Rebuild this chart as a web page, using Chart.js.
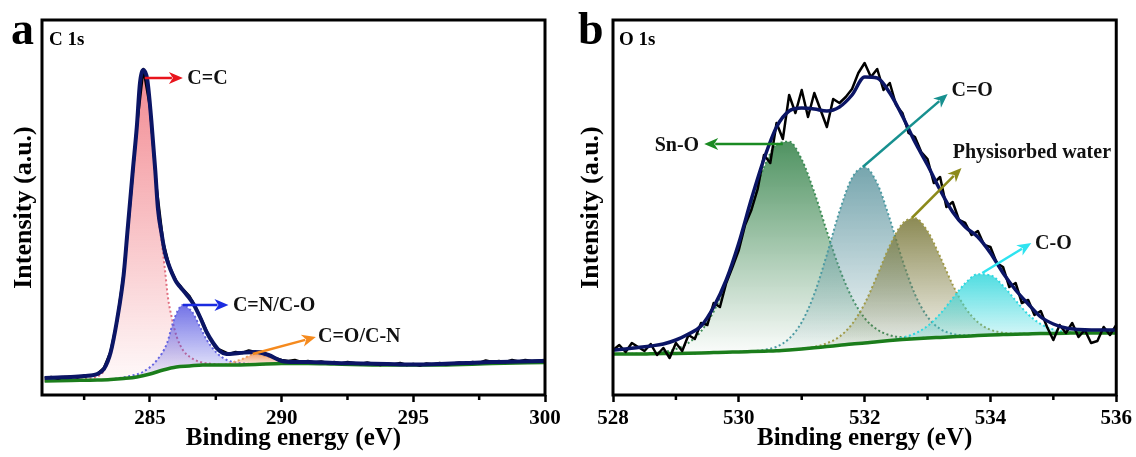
<!DOCTYPE html>
<html><head><meta charset="utf-8">
<script src="https://cdn.jsdelivr.net/npm/chart.js@4.4.0/dist/chart.umd.min.js"></script>
<style>
html,body{margin:0;padding:0;background:#fff;}
#wrap{position:relative;width:1136px;height:457px;overflow:hidden;background:#fff;}
.pane{position:absolute;top:0;width:568px;height:457px;}
#pa{left:0}#pb{left:568px}
</style></head><body>
<div id="wrap"><div class="pane" id="pa"><canvas id="ca"></canvas></div><div class="pane" id="pb"><canvas id="cb"></canvas></div></div>
<script>
// ---------- Panel a: C 1s ----------
const aTicks = [285, 290, 295, 300];
const aMinor = [282.5, 287.5, 292.5, 297.5];
const aEnvX = [281,281.5,282,282.5,283,283.25,283.5,283.75,284,284.15,284.35,284.5,284.62,284.75,284.9,285.05,285.2,285.3,285.45,285.57,285.7,285.85,286,286.15,286.4,286.65,286.9,287.15,287.4,287.65,287.9,288.4,289,289.5,290,290.5,291,292,293,294,295,296,297,298,299,300];
const aEnvY = [17,17.5,18,19,21,26,42,75,120,165,225,268,312,325,315,275,225,187,160,142,131,121,113,108,100,91,78,63,52,44,41,42,43,40,34,33,33,32,31.5,31,30.5,31,32,33,33.5,34];
const aRawX = [281,281.25,281.5,281.75,282,282.25,282.5,282.75,283,283.25,283.5,283.75,284,284.25,284.5,284.75,285,285.25,285.5,285.75,286,286.25,286.5,286.75,287,287.25,287.5,287.75,288,288.25,288.5,288.75,289,289.25,289.5,289.75,290,290.25,290.5,290.75,291,291.25,291.5,291.75,292,292.25,292.5,292.75,293,293.25,293.5,293.75,294,294.25,294.5,294.75,295,295.25,295.5,295.75,296,296.25,296.5,296.75,297,297.25,297.5,297.75,298,298.25,298.5,298.75,299,299.25,299.5,299.75,300];
const aRawY = [17,18,16.5,18,18.5,17.5,19,19.5,21,27,43,74,121,192,268,326,288,208,153,128,114,106,99,87,73,58,47,44,41,43,42,44.5,43,43.5,40,37,35,34,35,33,34,32.5,33.5,32,33,31.5,33,32,31,32.5,31,30,31.5,30.5,32,30,31,29.5,31.5,30.5,32,30.5,31.5,32.5,31.5,33,32,34.5,33,34,33,35,33.5,35,34,34.5,35];
const aBgX = [281,282,283,283.5,284,284.5,285,285.5,286,286.5,287,288,289,290,291,292,294,296,298,300];
const aBgY = [14,14.5,15,15.5,16.5,18,21,25,28,29,30,30,30.5,31.5,31.5,31,30,30,31.5,32.5];
const aCCX = [281,282,282.5,283,283.25,283.5,283.75,284,284.15,284.35,284.5,284.62,284.75,284.9,285.05,285.19,285.3,285.46,285.57,285.68,285.84,286.02,286.25,286.52,286.9,287.4,288,289,290];
const aCCY = [14,15,16,18.5,24,40,73,117,162,222,265,310,324,312,268,222,182,150,125,98,76,58,45,38,33,31,30,30.5,31.5];
const aCNX = [283.5,284.24,284.73,285.27,285.65,285.87,286.05,286.25,286.45,286.63,286.9,287.16,287.54,287.92,288.42,289,290];
const aCNY = [15.5,19,23,35,52,72,84,90,87,82,68,55,42,35,32,31,31.5];
const aCOX = [287.5,288,288.5,289,289.5,290,290.5,291];
const aCOY = [30,31.5,36,41,38,34,32,31.5];

// ---------- Panel b: O 1s ----------
const bTicks = [528, 530, 532, 534, 536];
const bMinor = [529, 531, 533, 535];
const bX = [528,528.2,528.4,528.6,528.8,529,529.2,529.4,529.6,529.8,530,530.2,530.4,530.6,530.8,531,531.2,531.4,531.6,531.8,532,532.2,532.4,532.6,532.8,533,533.2,533.4,533.6,533.8,534,534.2,534.4,534.6,534.8,535,535.2,535.4,535.6,535.8,536];
const bBg = [41,41,41,41.2,41.4,41.5,41.7,42,42.4,42.8,43,43.4,43.8,44.2,45,46,47.2,48.5,49.7,51,52,53.3,54.5,55.5,56.3,57,57.6,58.2,58.8,59.5,60,60.4,60.8,61.1,61.4,61.6,61.8,62,62,62,62];
const bSnO = [41,41.1,41.2,41.8,43.1,46,52.1,63.8,83.5,112.6,150,191.1,227.6,250.3,253.3,235.6,202.8,163.6,126.4,97.1,76.9,65.5,59.8,57.6,57.1,57.2,57.6,58.2,58.8,59.5,60,60.4,60.8,61.1,61.4,61.6,61.8,62,62,62,62];
const bCdO = [41,41,41,41.2,41.4,41.5,41.7,42,42.4,42.8,43.1,43.7,45.1,48.3,56.4,72.8,101,140.4,183.5,217.1,227.7,211.6,176.1,135.1,100.7,78.1,66.1,61.1,59.7,59.7,60,60.4,60.8,61.1,61.4,61.6,61.8,62,62,62,62];
const bWater = [41,41,41,41.2,41.4,41.5,41.7,42,42.4,42.8,43,43.4,43.8,44.2,45,46.3,48.2,51.7,58.3,70.9,91.3,119.4,149.2,171.2,176.7,163.8,138.3,110.2,87.3,72.8,65.3,62.2,61.3,61.2,61.4,61.6,61.8,62,62,62,62];
const bCO = [41,41,41,41.2,41.4,41.5,41.7,42,42.4,42.8,43,43.4,43.8,44.2,45,46,47.2,48.5,49.7,51,52,53.3,54.5,57.4,61.5,69,81,96.6,111.7,120.8,119.8,109.3,94.5,80.6,70.9,65.5,63.1,62.4,62.1,62,62];
const bEnv = [45,46,47.5,49,51,55,61,69,88,115,152,196,236,268,284,287,286,284,288,300,318,317,302,279,253,230,205,183,168,158,142,122,105,91,78,71,67,65.5,65,65,65];
const bRawX = [528,528.1,528.2,528.3,528.4,528.5,528.6,528.7,528.8,528.9,529,529.1,529.2,529.3,529.4,529.5,529.6,529.7,529.8,529.9,530,530.1,530.2,530.3,530.4,530.5,530.6,530.7,530.8,530.9,531,531.1,531.2,531.3,531.4,531.5,531.6,531.7,531.8,531.9,532,532.1,532.2,532.3,532.4,532.5,532.6,532.7,532.8,532.9,533,533.1,533.2,533.3,533.4,533.5,533.6,533.7,533.8,533.9,534,534.1,534.2,534.3,534.4,534.5,534.6,534.7,534.8,534.9,535,535.1,535.2,535.3,535.4,535.5,535.6,535.7,535.8,535.9,536];
const bRawY = [45,50,43,52,48,44,51,40,47,37,52,44,60,56,72,70,92,88,112,128,145,170,185,206,240,232,272,256,300,282,305,278,302,285,268,296,292,298,306,322,332,318,326,305,312,290,282,262,258,243,236,212,218,188,193,175,172,160,164,150,148,132,128,108,112,92,95,80,84,68,55,70,62,72,58,65,52,54,68,60,70];

const FONT = "'Liberation Serif', 'Times New Roman', serif";

function pts(xs, ys){ return xs.map((x, i) => ({x: x, y: ys[i]})); }
function grad(rgb, a0, a1, ys){
  const top = Math.max(...ys), bot = Math.min(...ys);
  return function(c){
    const ch = c.chart;
    if (!ch.chartArea) return 'rgba(0,0,0,0)';
    const y = ch.scales.y;
    const g = ch.ctx.createLinearGradient(0, y.getPixelForValue(top), 0, y.getPixelForValue(bot));
    g.addColorStop(0, 'rgba(' + rgb + ',' + a0 + ')');
    g.addColorStop(1, 'rgba(' + rgb + ',' + a1 + ')');
    return g;
  };
}
function solid(xs, ys, color, width, smoothLine){
  return {data: pts(xs, ys), borderColor: color, borderWidth: width, pointRadius: 0, fill: false,
    tension: 0, cubicInterpolationMode: smoothLine ? 'monotone' : 'default', borderJoinStyle: 'round'};
}
function comp(xs, ys, lineColor, rgb, a0, a1, bgIndex){
  return {data: pts(xs, ys), borderColor: lineColor, borderWidth: 2, borderDash: [2, 2.5], pointRadius: 0,
    cubicInterpolationMode: 'monotone', fill: {target: bgIndex}, backgroundColor: grad(rgb, a0, a1, ys)};
}
function arrow(ctx, x1, y1, x2, y2, col){
  const ang = Math.atan2(y2 - y1, x2 - x1), L = 14, W = 6;
  const c = Math.cos(ang), s = Math.sin(ang);
  const bx = x2 - L * c, by = y2 - L * s;
  ctx.strokeStyle = col; ctx.fillStyle = col; ctx.lineWidth = 2.5;
  ctx.beginPath(); ctx.moveTo(x1, y1); ctx.lineTo(bx + 3 * c, by + 3 * s); ctx.stroke();
  ctx.beginPath(); ctx.moveTo(x2, y2);
  ctx.lineTo(bx - W * s, by + W * c);
  ctx.lineTo(bx + 4 * c, by + 4 * s);
  ctx.lineTo(bx + W * s, by - W * c);
  ctx.closePath(); ctx.fill();
}
function deco(cfg){
  return {id: 'deco', afterDraw(chart){
    const ctx = chart.ctx, ca = chart.chartArea, x = chart.scales.x, y = chart.scales.y;
    ctx.save();
    ctx.strokeStyle = '#000'; ctx.lineWidth = 2.5;
    cfg.minors.forEach(v => { const px = x.getPixelForValue(v); ctx.beginPath(); ctx.moveTo(px, ca.bottom); ctx.lineTo(px, ca.bottom + 5); ctx.stroke(); });
    ctx.lineWidth = 3; ctx.strokeStyle = '#000';
    ctx.strokeRect(ca.left, ca.top, ca.right - ca.left, ca.bottom - ca.top);
    cfg.arrows.forEach(a => {
      arrow(ctx, x.getPixelForValue(a.x1), y.getPixelForValue(a.y1), x.getPixelForValue(a.x2), y.getPixelForValue(a.y2), a.color);
      ctx.fillStyle = '#111'; ctx.font = 'bold 20px ' + FONT; ctx.textBaseline = 'middle'; ctx.textAlign = a.align;
      ctx.fillText(a.label, x.getPixelForValue(a.lx), y.getPixelForValue(a.ly));
    });
    ctx.fillStyle = '#000'; ctx.textBaseline = 'alphabetic'; ctx.textAlign = 'left';
    ctx.font = 'bold 46px ' + FONT; ctx.fillText(cfg.letter, cfg.letterX, 44);
    ctx.font = 'bold 19px ' + FONT; ctx.fillText(cfg.core, ca.left + cfg.coreDx, 45);
    ctx.restore();
  }};
}
function options(xmin, xmax, step, yw, rightPad, ytitlePad){
  return {
    responsive: true, maintainAspectRatio: false, animation: false, devicePixelRatio: 1,
    layout: {padding: {left: 0, top: 20, right: rightPad, bottom: 0}},
    plugins: {legend: {display: false}, tooltip: {enabled: false}},
    scales: {
      x: {type: 'linear', min: xmin, max: xmax,
        afterFit: s => { s.height = 62; },
        border: {display: false},
        grid: {display: true, drawOnChartArea: false, drawTicks: true, tickLength: 7, tickWidth: 2.5, tickColor: '#000'},
        ticks: {stepSize: step, includeBounds: false, autoSkip: false, maxRotation: 0, padding: 4, color: '#000',
          font: {family: FONT, weight: 'bold', size: 21}},
        title: {display: true, text: 'Binding energy (eV)', color: '#000', padding: {top: 0, bottom: 3},
          font: {family: FONT, weight: 'bold', size: 25}}},
      y: {min: 0, max: 375,
        afterFit: s => { s.width = yw; },
        border: {display: false}, grid: {display: false}, ticks: {display: false},
        title: {display: true, text: 'Intensity (a.u.)', color: '#000', padding: {top: ytitlePad, bottom: 0},
          font: {family: FONT, weight: 'bold', size: 26}}}
    }
  };
}

new Chart(document.getElementById('ca'), {
  type: 'line',
  data: {datasets: [
    solid(aEnvX, aEnvY, '#0b1565', 4, true),
    solid(aRawX, aRawY, '#000', 2.5, false),
    solid(aBgX, aBgY, '#1b7d1b', 3.5, true),
    comp(aCOX, aCOY, '#f0a060', '240,140,80', 0.8, 0.15, 2),
    comp(aCNX, aCNY, '#6464e0', '80,80,225', 0.8, 0.05, 2),
    comp(aCCX, aCCY, '#e07080', '238,100,110', 0.75, 0.04, 2)
  ]},
  options: options(280.9, 300, 5, 42, 23, 9),
  plugins: [deco({letter: 'a', letterX: 11, core: 'C 1s', coreDx: 7, minors: aMinor, arrows: [
    {x1: 284.8, y1: 317, x2: 286.25, y2: 317, color: '#e8141c', label: 'C=C', lx: 286.42, ly: 316, align: 'left'},
    {x1: 286.25, y1: 90, x2: 287.98, y2: 90, color: '#1a2be0', label: 'C=N/C-O', lx: 288.15, ly: 89, align: 'left'},
    {x1: 288.9, y1: 41, x2: 291.3, y2: 58, color: '#f58a1e', label: 'C=O/C-N', lx: 291.38, ly: 58, align: 'left'}
  ]})]
});

new Chart(document.getElementById('cb'), {
  type: 'line',
  data: {datasets: [
    solid(bX, bEnv, '#0b1565', 3.5, true),
    solid(bRawX, bRawY, '#000', 2.5, false),
    solid(bX, bBg, '#1b7d1b', 3.5, true),
    comp(bX, bCO, '#30d8e0', '50,215,220', 0.85, 0.02, 2),
    comp(bX, bWater, '#a09a48', '120,118,55', 0.85, 0.02, 2),
    comp(bX, bCdO, '#4c9aa2', '95,150,160', 0.85, 0.02, 2),
    comp(bX, bSnO, '#3d8c55', '60,135,80', 0.9, 0.02, 2)
  ]},
  options: options(528, 536, 2, 45, 19, 8),
  plugins: [deco({letter: 'b', letterX: 10, core: 'O 1s', coreDx: 6, minors: bMinor, arrows: [
    {x1: 530.7, y1: 251, x2: 529.45, y2: 251, color: '#1a8a22', label: 'Sn-O', lx: 529.37, ly: 249, align: 'right'},
    {x1: 531.97, y1: 228, x2: 533.32, y2: 301, color: '#17908f', label: 'C=O', lx: 533.38, ly: 304, align: 'left'},
    {x1: 532.75, y1: 177, x2: 533.54, y2: 227, color: '#8c8a1a', label: 'Physisorbed water', lx: 533.40, ly: 242, align: 'left'},
    {x1: 533.87, y1: 122, x2: 534.65, y2: 152, color: '#2ee3f0', label: 'C-O', lx: 534.71, ly: 151, align: 'left'}
  ]})]
});
</script></body></html>
